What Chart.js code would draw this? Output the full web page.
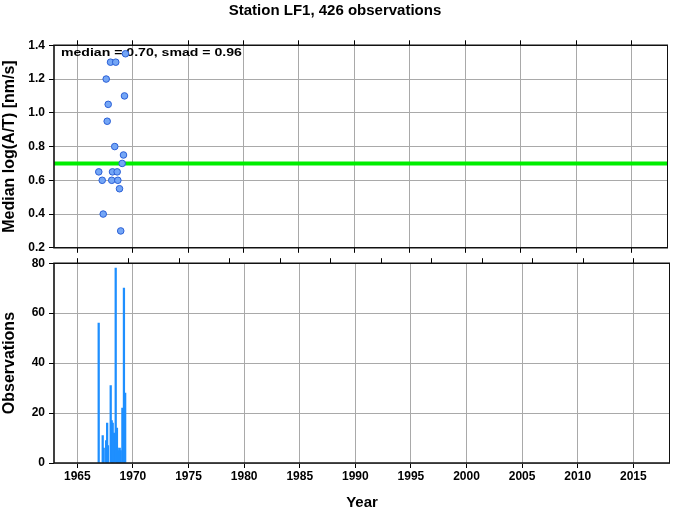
<!DOCTYPE html>
<html>
<head>
<meta charset="utf-8">
<script src="https://cdn.jsdelivr.net/npm/chart.js@4/dist/chart.umd.min.js"></script>
<style>
  body { margin: 0; background: #fff; overflow: hidden; }
  #wrap { position: relative; width: 673px; height: 511px; overflow: hidden; }
  canvas { position: absolute; left: 0; }
</style>
</head>
<body>
<div id="wrap">
  <canvas id="median_chart" width="673" height="259" style="top:0"></canvas>
  <canvas id="obs_chart" width="673" height="262" style="top:252px"></canvas>
</div>
<script>
var titleText = "Station LF1, 426 observations";
var statsText = "median = 0.70, smad = 0.96";
var medianValue = 0.70;

var xMin = 1962.9, xMax = 2018.3;
var yearTicks = [1965, 1970, 1975, 1980, 1985, 1990, 1995, 2000, 2005, 2010, 2015];
var medianTicks = [0.2, 0.4, 0.6, 0.8, 1.0, 1.2, 1.4];
var obsTicks = [0, 20, 40, 60, 80];

// median log(A/T) per event
var medYears  = [1969.35, 1968.0, 1968.47, 1967.61, 1969.26, 1967.79, 1967.7, 1968.38, 1969.17, 1969.05,
                 1966.94, 1968.18, 1968.6, 1967.25, 1968.11, 1968.66, 1968.81, 1967.34, 1968.92];
var medValues = [1.35, 1.30, 1.30, 1.20, 1.10, 1.05, 0.95, 0.80, 0.75, 0.70,
                 0.65, 0.65, 0.65, 0.60, 0.60, 0.60, 0.55, 0.40, 0.30];

// observations per event
var obsYears  = [1966.92, 1967.28, 1967.37, 1967.59, 1967.68, 1967.75, 1968.0, 1968.09, 1968.18, 1968.29,
                 1968.45, 1968.56, 1968.63, 1968.72, 1968.81, 1968.9, 1969.05, 1969.19, 1969.3];
var obsCounts = [56, 11, 6, 9, 16, 7, 31, 17, 16, 12, 78, 14, 6, 5, 6, 5, 22, 70, 28];

var fontFamily = "Liberation Sans, Arial, sans-serif";
var tickFont = { family: fontFamily, size: 12, weight: "bold" };
var titleFont = { family: fontFamily, size: 16, weight: "bold" };
var gridColor = "#a9a9a9";

var setTicks = function(list){
  return function(scale){
    scale.ticks = list.map(function(v){ return { value: v }; });
  };
};

// box round the plot area
var framePlugin = {
  id: "frame",
  afterDraw: function(chart){
    var a = chart.chartArea, ctx = chart.ctx;
    ctx.save();
    ctx.strokeStyle = "#111";
    ctx.lineWidth = 1.6;
    ctx.beginPath();
    ctx.moveTo(a.right, a.top);
    ctx.lineTo(a.left, a.top);
    ctx.lineTo(a.left, a.bottom);
    ctx.lineTo(a.right, a.bottom);
    ctx.stroke();
    ctx.lineWidth = 1;
    ctx.beginPath();
    ctx.moveTo(a.right - 0.5, a.top);
    ctx.lineTo(a.right - 0.5, a.bottom);
    ctx.stroke();
    ctx.restore();
  }
};

// the stats line is drawn wide, like the reference
var statsPlugin = {
  id: "stats",
  beforeDatasetsDraw: function(chart){
    var a = chart.chartArea, ctx = chart.ctx;
    ctx.save();
    ctx.translate(a.left + 7, a.top + 8);
    ctx.scale(1.28, 1);
    ctx.font = "bold 11px " + fontFamily;
    ctx.fillStyle = "#000";
    ctx.textBaseline = "middle";
    ctx.fillText(statsText, 0, 0);
    ctx.restore();
  }
};

var topAxis = {
  type: "linear", position: "top", min: xMin, max: xMax,
  afterBuildTicks: setTicks(yearTicks),
  ticks: { display: false },
  grid: { drawOnChartArea: false, tickLength: 5, tickColor: "#000" },
  border: { display: false }
};

var medianChart = new Chart(document.getElementById("median_chart").getContext("2d"), {
  type: "scatter",
  data: {
    datasets: [{
      data: medYears.map(function(x, i){ return { x: x, y: medValues[i] }; }),
      backgroundColor: "#74a6f6",
      borderColor: "#2a5fd6",
      borderWidth: 1,
      pointRadius: 3.3
    }, {
      type: "line",
      data: [{ x: xMin, y: medianValue }, { x: xMax, y: medianValue }],
      borderColor: "#00ee00",
      borderWidth: 4,
      pointRadius: 0
    }]
  },
  plugins: [framePlugin, statsPlugin],
  options: {
    responsive: false,
    animation: false,
    layout: { padding: { right: 3, bottom: 0 } },
    plugins: {
      legend: { display: false },
      tooltip: { enabled: false },
      title: {
        display: true, text: titleText, fullSize: true, color: "#000",
        font: { family: fontFamily, size: 15, weight: "bold" },
        padding: { top: 2, bottom: 20.3 }
      }
    },
    scales: {
      x: {
        type: "linear", min: xMin, max: xMax,
        afterBuildTicks: setTicks(yearTicks),
        ticks: { display: false },
        grid: { color: gridColor, tickLength: 5, tickColor: "#000" },
        border: { display: false }
      },
      xTop: topAxis,
      y: {
        min: 0.2, max: 1.4,
        afterBuildTicks: setTicks(medianTicks),
        afterFit: function(scale){ scale.width = 54; },
        ticks: { font: tickFont, color: "#000", padding: 4,
                 callback: function(v){ return v.toFixed(1); } },
        grid: { color: gridColor, tickLength: 5, tickColor: "#000" },
        border: { display: false },
        title: { display: true, text: "Median log(A/T) [nm/s]", font: titleFont, color: "#000", padding: 0 }
      }
    }
  }
});

var obsChart = new Chart(document.getElementById("obs_chart").getContext("2d"), {
  type: "bar",
  data: {
    datasets: [{
      data: obsYears.map(function(x, i){ return { x: x, y: obsCounts[i] }; }),
      backgroundColor: "#1e8fff",
      barThickness: 1.6,
      grouped: false
    }]
  },
  plugins: [framePlugin],
  options: {
    responsive: false,
    animation: false,
    layout: { padding: { top: 5, right: 3 } },
    plugins: { legend: { display: false }, tooltip: { enabled: false } },
    scales: {
      x: {
        type: "linear", min: xMin, max: xMax, offset: false,
        afterBuildTicks: setTicks(yearTicks),
        ticks: { font: tickFont, color: "#000", padding: 1, maxRotation: 0, autoSkip: false,
                 callback: function(v){ return String(v); } },
        grid: { color: gridColor, tickLength: 5, tickColor: "#000", offset: false },
        border: { display: false },
        title: { display: true, text: "Year", color: "#000",
                 font: { family: fontFamily, size: 15, weight: "bold" },
                 padding: { top: 9.6, bottom: 2 } }
      },
      xTop: topAxis,
      y: {
        min: 0, max: 80,
        afterBuildTicks: setTicks(obsTicks),
        afterFit: function(scale){ scale.width = 54; },
        ticks: { font: tickFont, color: "#000", padding: 4 },
        grid: { color: gridColor, tickLength: 5, tickColor: "#000" },
        border: { display: false },
        title: { display: true, text: "Observations", font: titleFont, color: "#000", padding: 0 }
      }
    }
  }
});
</script>
</body>
</html>
